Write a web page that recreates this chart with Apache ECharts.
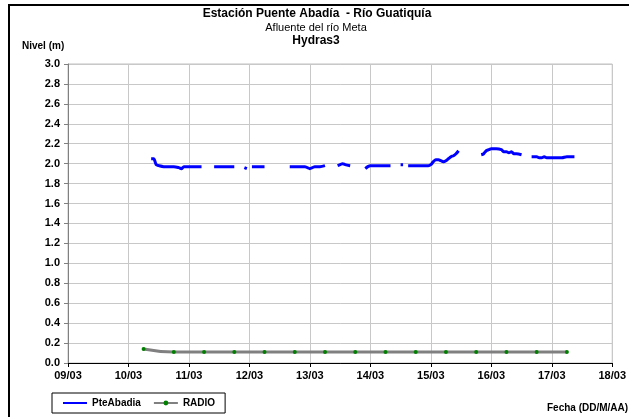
<!DOCTYPE html>
<html><head><meta charset="utf-8">
<script src="https://cdn.jsdelivr.net/npm/echarts@6/dist/echarts.min.js"></script>
<style>html,body{margin:0;padding:0;background:#fff}#c{width:629px;height:417px}</style>
</head><body><div id="c"></div>
<script>
// Hours since 09/03 00:00
const xTickLabels = ['09/03','10/03','11/03','12/03','13/03','14/03','15/03','16/03','17/03','18/03'];
const pteHours = [33,34,35,36,38,40,42,44,45,46,48,50,52,53,54,
  58,60,62,64,66,67,
  70,71,72,73,74,76,78,79,
  88,90,92,94,95,96,97,98,100,102,103,
  107,108,109,110,112,113,
  118,119,120,122,124,126,128,129,
  132,133,134,
  135,137,139,141,143,144,145,146,147,148,149,150,151,152,153,154,155,156,
  164,165,166,167,168,170,172,173,174,175,176,177,178,180,181,
  184,186,187,188,189,190,192,194,196,198,200,201];
const pteLevel = [2.05,2.05,1.99,1.98,1.97,1.97,1.97,1.96,1.95,1.97,1.97,1.97,1.97,1.97,null,
  1.97,1.97,1.97,1.97,1.97,null,
  1.96,1.95,null,1.97,1.97,1.97,1.97,null,
  1.97,1.97,1.97,1.97,1.96,1.95,1.96,1.97,1.97,1.98,null,
  1.98,1.99,2.00,1.99,1.98,null,
  1.95,1.97,1.98,1.98,1.98,1.98,1.98,null,
  1.99,1.99,null,
  1.98,1.98,1.98,1.98,1.98,1.99,2.02,2.04,2.04,2.03,2.02,2.03,2.05,2.07,2.08,2.10,2.13,null,
  2.09,2.10,2.13,2.14,2.15,2.15,2.14,2.12,2.12,2.11,2.12,2.10,2.10,2.09,null,
  2.07,2.07,2.06,2.06,2.07,2.06,2.06,2.06,2.06,2.07,2.07,2.07];
const radioHours = [30,42,54,66,78,90,102,114,126,138,150,162,174,186,198];
const radioLevel = [0.14,0.11,0.11,0.11,0.11,0.11,0.11,0.11,0.11,0.11,0.11,0.11,0.11,0.11,0.11];

const zip = (a,b) => a.map((v,i)=>[v,b[i]]);
const chart = echarts.init(document.getElementById('c'), null, {renderer:'canvas'});
const F = 'Liberation Sans, Arial, sans-serif';
chart.setOption({
  animation:false,
  backgroundColor:'#fff',
  grid:{left:68,right:15,top:64,bottom:54,show:true,borderColor:'#c0c0c0',borderWidth:1},
  xAxis:{type:'value',min:0,max:216,interval:24,
    axisLine:{show:true,onZero:false,lineStyle:{color:'#000',width:1}},
    axisTick:{show:true,length:4,lineStyle:{color:'#000'}},
    splitLine:{show:true,lineStyle:{color:'#c8c8c8',width:1}},
    axisLabel:{fontFamily:F,fontWeight:'bold',fontSize:11,color:'#000',margin:7,
      formatter:v=>xTickLabels[Math.round(v/24)]}},
  yAxis:{type:'value',min:0,max:3,interval:0.2,
    axisLine:{show:true,lineStyle:{color:'#808080',width:1}},
    axisTick:{show:true,length:4,lineStyle:{color:'#808080'}},
    splitLine:{show:true,lineStyle:{color:'#c8c8c8',width:1}},
    axisLabel:{fontFamily:F,fontWeight:'bold',fontSize:11,color:'#000',margin:8,
      formatter:v=>v.toFixed(1)}},
  legend:{left:52,top:393,orient:'horizontal',
    borderColor:'#000',borderWidth:1,borderRadius:0,padding:[5,10,5,10],
    itemWidth:24,itemHeight:6,itemGap:12,
    textStyle:{fontFamily:F,fontWeight:'bold',fontSize:10,color:'#000'},
    data:[{name:'PteAbadia',itemStyle:{opacity:0}},'RADIO']},
  series:[
    {name:'PteAbadia',type:'line',data:zip(pteHours,pteLevel),connectNulls:false,
      showSymbol:false,symbol:'none',smooth:0.3,
      lineStyle:{color:'#0000ff',width:3},itemStyle:{color:'#0000ff'}},
    {name:'RADIO',type:'line',data:zip(radioHours,radioLevel),smooth:0.5,
      symbol:'circle',symbolSize:4,showSymbol:true,
      lineStyle:{color:'#808080',width:3},itemStyle:{color:'#008000',borderWidth:0}}
  ],
  graphic:[
    {type:'rect',shape:{x:9,y:5,width:640,height:430},style:{fill:'none',stroke:'#000',lineWidth:2},z:-1},
    {type:'text',x:317,y:8,style:{text:'Estación Puente Abadía  - Río Guatiquía',font:'bold 12px '+F,fill:'#000',textAlign:'center'}},
    {type:'text',x:316,y:22,style:{text:'Afluente del río Meta',font:'11px '+F,fill:'#000',textAlign:'center'}},
    {type:'text',x:316,y:35,style:{text:'Hydras3',font:'bold 12px '+F,fill:'#000',textAlign:'center'}},
    {type:'text',x:22,y:41,style:{text:'Nivel (m)',font:'bold 10px '+F,fill:'#000'}},
    {type:'text',x:547,y:403,style:{text:'Fecha (DD/M/AA)',font:'bold 10px '+F,fill:'#000'}}
  ]
});
</script></body></html>
